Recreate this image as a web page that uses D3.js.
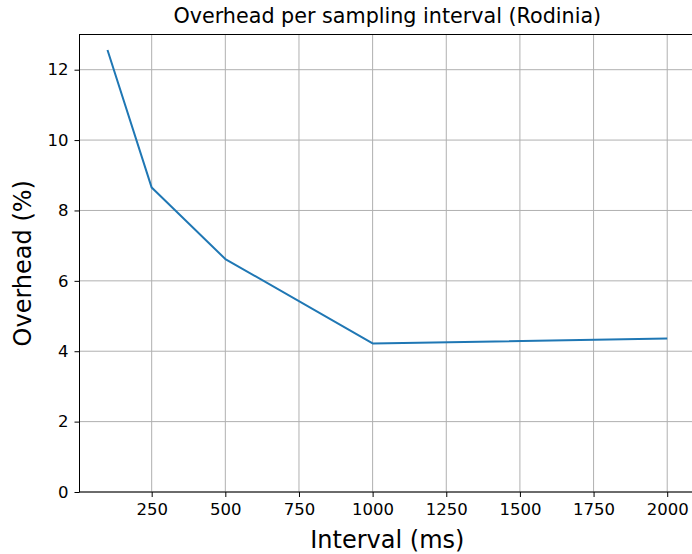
<!DOCTYPE html>
<html><head><meta charset="utf-8">
<script src="https://cdn.jsdelivr.net/npm/d3@7"></script>
<style>html,body{margin:0;padding:0;background:#fff;overflow:hidden}</style>
</head><body>
<svg id="c" width="692" height="554"></svg>
<script>
const intervals = [100, 250, 500, 1000, 2000];
const overhead = [12.56, 8.65, 6.62, 4.22, 4.36];
const xTicks = [250, 500, 750, 1000, 1250, 1500, 1750, 2000];
const yTicks = [0, 2, 4, 6, 8, 10, 12];
const title = "Overhead per sampling interval (Rodinia)";
const xLabel = "Interval (ms)";
const yLabel = "Overhead (%)";

const svg = d3.select("#c");
const L = 79.5, R = 695.2, T = 34.5, B = 492;
const x = d3.scaleLinear().domain([5, 2095]).range([L, R]);
const y = d3.scaleLinear().domain([0, 13]).range([B, T]);
const font = "DejaVu Sans, sans-serif";

// grid
svg.append("g").selectAll("line").data(xTicks).join("line")
  .attr("x1", d => x(d)).attr("x2", d => x(d)).attr("y1", T).attr("y2", B)
  .attr("stroke", "#b0b0b0").attr("stroke-width", 1);
svg.append("g").selectAll("line").data(yTicks).join("line")
  .attr("x1", L).attr("x2", R).attr("y1", d => y(d)).attr("y2", d => y(d))
  .attr("stroke", "#b0b0b0").attr("stroke-width", 1);

// line
svg.append("path").datum(intervals.map((v, i) => [v, overhead[i]]))
  .attr("fill", "none").attr("stroke", "#1f77b4").attr("stroke-width", 2)
  .attr("stroke-linejoin", "round").attr("stroke-linecap", "butt")
  .attr("d", d3.line().x(d => x(d[0])).y(d => y(d[1])));

// axes
const xa = svg.append("g").attr("transform", `translate(0,${B})`)
  .call(d3.axisBottom(x).tickValues(xTicks).tickFormat(d3.format("d")).tickSizeOuter(0).tickSize(5).tickPadding(6));
const ya = svg.append("g").attr("transform", `translate(${L},0)`)
  .call(d3.axisLeft(y).tickValues(yTicks).tickFormat(d3.format("d")).tickSizeOuter(0).tickSize(5).tickPadding(6));
[xa, ya].forEach(g => {
  g.select(".domain").remove();
  g.selectAll("line").attr("stroke", "#000").attr("stroke-width", 1);
  g.selectAll("text").attr("font-family", font).attr("font-size", 16.5).attr("fill", "#000");
});

// spines
svg.append("rect").attr("x", L).attr("y", T).attr("width", R - L).attr("height", B - T)
  .attr("fill", "none").attr("stroke", "#000").attr("stroke-width", 1);

// labels
svg.append("text").attr("x", (L + R) / 2).attr("y", 23).attr("text-anchor", "middle")
  .attr("font-family", font).attr("font-size", 20.7).text(title);
svg.append("text").attr("x", (L + R) / 2).attr("y", 548).attr("text-anchor", "middle")
  .attr("font-family", font).attr("font-size", 24).text(xLabel);
svg.append("text").attr("transform", `translate(31,${(T + B) / 2}) rotate(-90)`).attr("text-anchor", "middle")
  .attr("font-family", font).attr("font-size", 24).text(yLabel);
</script>
</body></html>
